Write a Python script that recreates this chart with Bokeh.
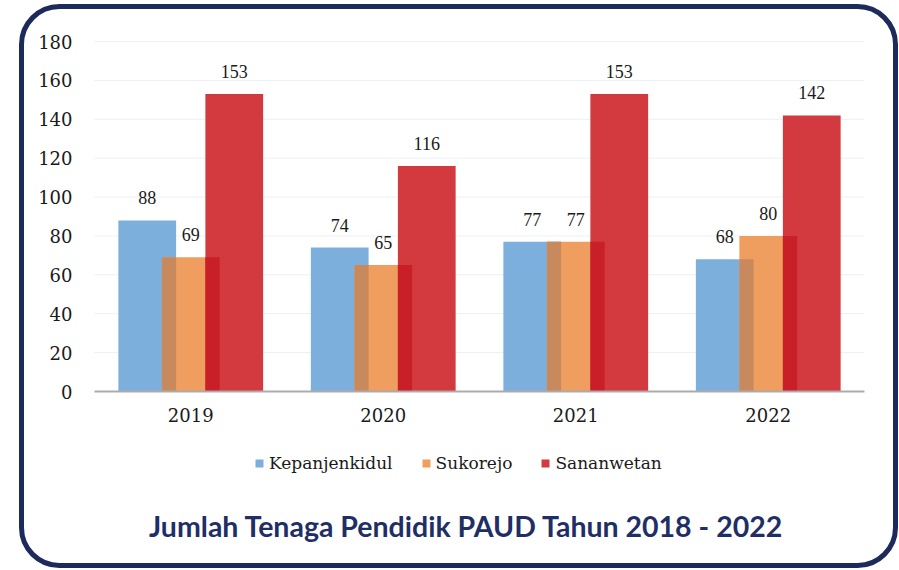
from bokeh.plotting import figure
from bokeh.models import (ColumnDataSource, LabelSet, Legend, LegendItem, Label,
                          BoxAnnotation, FixedTicker, LinearAxis, Range1d)
from bokeh.embed import file_html
from bokeh.resources import INLINE

# ---- data ----
years = ["2019", "2020", "2021", "2022"]
kepanjenkidul = [88, 74, 77, 68]
sukorejo = [69, 65, 77, 80]
sananwetan = [153, 116, 153, 142]
series_names = ["Kepanjenkidul", "Sukorejo", "Sananwetan"]
y_ticks = [0, 20, 40, 60, 80, 100, 120, 140, 160, 180]
title_text = "Jumlah Tenaga Pendidik PAUD Tahun 2018 - 2022"

# ---- style ----
colors = ["#7DAFDD", "#EF9E5F", "#D23A3F"]
overlap_colors = ["#C88A5C", "#C91F28"]
serif = "DejaVu Serif"
text_col = "#1A1A1A"
navy = "#1C2A5C"

offsets = [-0.226, 0.0, 0.226]
bar_w = 0.30

W, H = 899, 570
# plotting area inside the canvas (pixels)
PL, PR, PT, PB = 94, 864, 41, 391
n = len(years)
ux = (PR - PL) / n
uy = (PB - PT) / (y_ticks[-1] - y_ticks[0])
x_range = Range1d(-PL / ux, n + (W - PR) / ux)
y_range = Range1d(-(H - PB) / uy, y_ticks[-1] + PT / uy)

p = figure(width=W, height=H, x_range=x_range, y_range=y_range,
           output_backend="svg", toolbar_location=None,
           x_axis_location=None, y_axis_location=None,
           min_border=0, min_border_left=0, min_border_right=0,
           min_border_top=0, min_border_bottom=0)
p.outline_line_color = None
p.background_fill_color = "white"
p.border_fill_color = "white"
p.xgrid.visible = False
p.ygrid.visible = False

xc = [i + 0.5 for i in range(n)]

# grid lines across the category span
p.segment(x0=[0] * len(y_ticks[1:]), x1=[n] * len(y_ticks[1:]), y0=y_ticks[1:], y1=y_ticks[1:],
          line_color="#EAF0F7", line_width=1)

series = [kepanjenkidul, sukorejo, sananwetan]
renderers = []
for i, (name, vals) in enumerate(zip(series_names, series)):
    src = ColumnDataSource(dict(x=[c + offsets[i] for c in xc], val=vals,
                                lbl=[str(v) for v in vals]))
    r = p.vbar(x="x", top="val", width=bar_w, source=src,
               fill_color=colors[i], line_color=None)
    renderers.append(r)
    if i > 0:
        prev = series[i - 1]
        left_edge = offsets[i] - bar_w / 2
        right_prev = offsets[i - 1] + bar_w / 2
        ov = ColumnDataSource(dict(x=[c + (left_edge + right_prev) / 2 for c in xc],
                                   top=[min(a, b) for a, b in zip(prev, vals)]))
        p.vbar(x="x", top="top", width=right_prev - left_edge, source=ov,
               fill_color=overlap_colors[i - 1], line_color=None)
    p.add_layout(LabelSet(x="x", y="val", text="lbl", source=src, y_offset=16,
                          text_align="center", text_baseline="bottom",
                          text_font=serif, text_font_size="18px", text_color=text_col))

# axes placed inside the canvas
yaxis = LinearAxis(fixed_location=0, ticker=FixedTicker(ticks=y_ticks), bounds=(0, 180))
yaxis.axis_line_color = None
yaxis.major_tick_line_color = None
yaxis.minor_tick_line_color = None
yaxis.major_label_text_font = serif
yaxis.major_label_text_font_size = "18px"
yaxis.major_label_text_color = text_col
yaxis.major_label_standoff = 16
p.add_layout(yaxis, "left")

xaxis = LinearAxis(fixed_location=0, ticker=FixedTicker(ticks=xc), bounds=(0, n),
                   major_label_overrides={c: y for c, y in zip(xc, years)})
xaxis.axis_line_color = "#ABABAB"
xaxis.axis_line_width = 2
xaxis.major_tick_line_color = None
xaxis.minor_tick_line_color = None
xaxis.major_tick_out = 0
xaxis.major_label_text_font = serif
xaxis.major_label_text_font_size = "18px"
xaxis.major_label_text_color = text_col
xaxis.major_label_standoff = 16
p.add_layout(xaxis, "below")

legend = Legend(items=[LegendItem(label=nm, renderers=[r]) for nm, r in zip(series_names, renderers)],
                orientation="horizontal", location=(254, 97),
                glyph_width=10, glyph_height=10, label_standoff=5, spacing=28,
                label_text_font=serif, label_text_font_size="17px", label_text_color=text_col,
                border_line_color=None, background_fill_alpha=0, margin=0, padding=6)
p.add_layout(legend, "center")

title = Label(x=466, y=H - 525, x_units="screen", y_units="screen", text=title_text,
              text_align="center", text_baseline="middle", text_font="Lato",
              text_font_style="bold", text_font_size="28.5px", text_color="#1F2F66")
p.add_layout(title)

border = BoxAnnotation(left=21, right=895, top=H - 6, bottom=H - 565,
                       left_units="screen", right_units="screen", top_units="screen",
                       bottom_units="screen",
                       fill_alpha=0, line_color=navy, line_alpha=1.0, line_width=5,
                       border_radius=38)
p.add_layout(border)

open("out.html", "w").write(file_html(p, INLINE))
